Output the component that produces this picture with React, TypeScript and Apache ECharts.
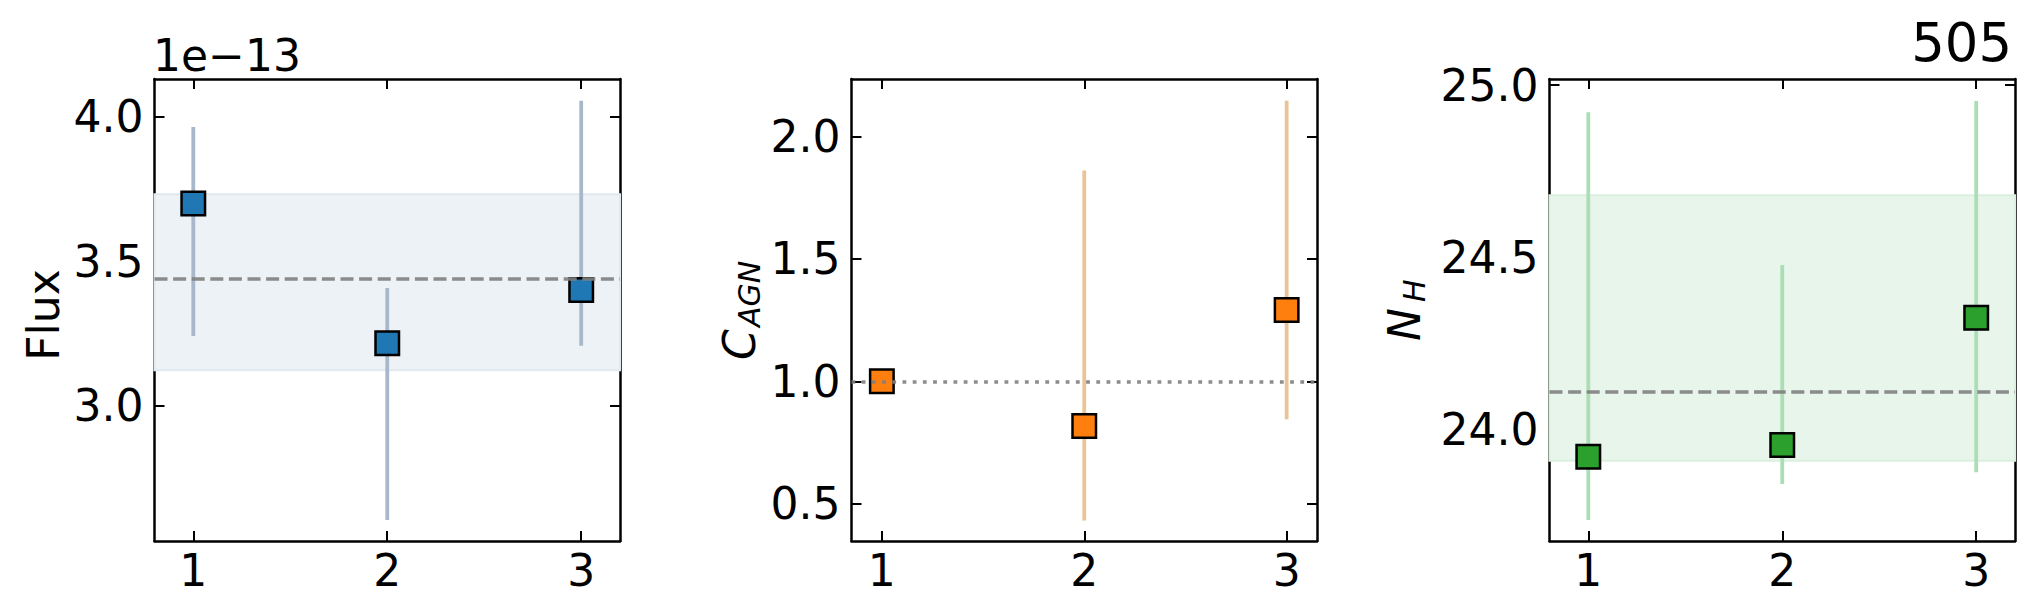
import React, { useEffect, useRef } from "react";
import * as echarts from "echarts";

// ---------- data ----------
const xPositions = [1, 2, 3];
const xTickValues = [1, 2, 3];

// Panel 1: Flux (in units of 1e-13)
const fluxOffsetText = "1e\u221213";
const fluxValues = [3.7, 3.216, 3.4];
const fluxLow = [3.241, 2.604, 3.207];
const fluxHigh = [3.965, 3.407, 4.056];
const fluxMean = 3.438;
const fluxBand = [3.122, 3.732];
const fluxTicks = [3.0, 3.5, 4.0];
const fluxYRange = [2.531, 4.131];
const fluxXRange = [0.8, 3.2];

// Panel 2: C_AGN
const cagnValues = [1.0, 0.818, 1.292];
const cagnLow = [1.0, 0.432, 0.845];
const cagnHigh = [1.0, 1.861, 2.146];
const cagnRef = 1.0;
const cagnTicks = [0.5, 1.0, 1.5, 2.0];
const cagnYRange = [0.348, 2.235];
const cagnXRange = [0.85, 3.15];

// Panel 3: N_H
const nhValues = [23.92, 23.954, 24.324];
const nhLow = [23.736, 23.841, 23.875];
const nhHigh = [24.921, 24.477, 24.954];
const nhMean = 24.11;
const nhBand = [23.908, 24.68];
const nhTicks = [24.0, 24.5, 25.0];
const nhYRange = [23.675, 25.018];
const nhXRange = [0.8, 3.2];

const titleText = "505";

// ---------- styling ----------
const FONT = "DejaVu Sans";
const FS = 44;
const SUB_FS = 30;

const GRID_TOP = 79;
const GRID_H = 462;
const GRID_W = 465.5;
const GRID_LEFTS = [154.5, 851.5, 1549.5];

const tickStyle = (vals: number[]) => ({
  show: true,
  inside: true,
  length: 10,
  customValues: vals,
  lineStyle: { color: "#000", width: 2 },
});
const lineStyleAxis = { show: true, onZero: false, lineStyle: { color: "#000", width: 2.5 } };

function makeAxes(g: number, xr: number[], yr: number[], yTicks: number[]) {
  const xAxes = [
    {
      type: "value",
      gridIndex: g,
      position: "bottom",
      min: xr[0],
      max: xr[1],
      axisLine: lineStyleAxis,
      axisTick: tickStyle(xTickValues),
      splitLine: { show: false },
      axisLabel: {
        show: true,
        customValues: xTickValues,
        margin: 7,
        color: "#000",
        fontFamily: FONT,
        fontSize: FS,
        formatter: (v: number) => String(Math.round(v)),
      },
    },
    {
      type: "value",
      gridIndex: g,
      position: "top",
      min: xr[0],
      max: xr[1],
      axisLine: lineStyleAxis,
      axisTick: tickStyle(xTickValues),
      splitLine: { show: false },
      axisLabel: { show: false, customValues: xTickValues },
    },
  ];
  const yAxes = [
    {
      type: "value",
      gridIndex: g,
      position: "left",
      min: yr[0],
      max: yr[1],
      axisLine: lineStyleAxis,
      axisTick: tickStyle(yTicks),
      splitLine: { show: false },
      axisLabel: {
        show: true,
        customValues: yTicks,
        margin: 11,
        color: "#000",
        fontFamily: FONT,
        fontSize: FS,
        formatter: (v: number) => v.toFixed(1),
      },
    },
    {
      type: "value",
      gridIndex: g,
      position: "right",
      min: yr[0],
      max: yr[1],
      axisLine: lineStyleAxis,
      axisTick: tickStyle(yTicks),
      splitLine: { show: false },
      axisLabel: { show: false, customValues: yTicks },
    },
  ];
  return { xAxes, yAxes };
}

function makeSeries(
  g: number,
  values: number[],
  low: number[],
  high: number[],
  markerColor: string,
  barColor: string,
  opts: { band?: number[]; bandFill?: string; bandBorder?: string; hline: number; hlineType: any; }
) {
  const xi = 2 * g;
  const yi = 2 * g;
  const holder: any = {
    type: "line",
    xAxisIndex: xi,
    yAxisIndex: yi,
    data: [],
    silent: true,
    z: 1,
    markLine: {
      silent: true,
      symbol: ["none", "none"],
      label: { show: false },
      lineStyle: {
        color: "#808080",
        opacity: 0.9,
        width: 3.6,
        type: opts.hlineType,
      },
      data: [{ yAxis: opts.hline }],
    },
  };
  if (opts.band) {
    holder.markArea = {
      silent: true,
      itemStyle: { color: opts.bandFill, borderColor: opts.bandBorder, borderWidth: 2 },
      data: [[{ yAxis: opts.band[0] }, { yAxis: opts.band[1] }]],
    };
  }
  const bars = {
    type: "custom",
    xAxisIndex: xi,
    yAxisIndex: yi,
    z: 2,
    silent: true,
    data: xPositions.map((x, i) => [x, low[i], high[i]]),
    encode: { x: 0, y: [1, 2] },
    renderItem: (params: any, api: any) => {
      const p1 = api.coord([api.value(0), api.value(1)]);
      const p2 = api.coord([api.value(0), api.value(2)]);
      return {
        type: "line",
        shape: { x1: p1[0], y1: p1[1], x2: p2[0], y2: p2[1] },
        style: { stroke: barColor, lineWidth: 3.8 },
      };
    },
  };
  const markers = {
    type: "scatter",
    xAxisIndex: xi,
    yAxisIndex: yi,
    z: 3,
    silent: true,
    symbol: "rect",
    symbolSize: 23.5,
    itemStyle: { color: markerColor, borderColor: "#000", borderWidth: 2.5, opacity: 1 },
    data: xPositions.map((x, i) => [x, values[i]]),
  };
  return [holder, bars, markers];
}

function rotText(text: string, x: number, y: number, size: number, italic: boolean, align: string) {
  return {
    type: "text",
    x,
    y,
    rotation: Math.PI / 2,
    silent: true,
    style: {
      text,
      fill: "#000",
      font: `${italic ? "italic " : ""}${size}px '${FONT}'`,
      fontFamily: FONT,
      fontSize: size,
      fontStyle: italic ? "italic" : "normal",
      align,
      verticalAlign: "middle",
    },
  };
}

export default function App() {
  const ref = useRef<HTMLDivElement>(null);
  useEffect(() => {
    if (!ref.current) return;
    const chart = echarts.init(ref.current, undefined, { renderer: "svg" });
    const a1 = makeAxes(0, fluxXRange, fluxYRange, fluxTicks);
    const a2 = makeAxes(1, cagnXRange, cagnYRange, cagnTicks);
    const a3 = makeAxes(2, nhXRange, nhYRange, nhTicks);
    const option: any = {
      animation: false,
      backgroundColor: "#fff",
      grid: GRID_LEFTS.map((l) => ({ left: l, top: GRID_TOP, width: GRID_W, height: GRID_H, containLabel: false })),
      xAxis: [...a1.xAxes, ...a2.xAxes, ...a3.xAxes],
      yAxis: [...a1.yAxes, ...a2.yAxes, ...a3.yAxes],
      series: [
        ...makeSeries(0, fluxValues, fluxLow, fluxHigh, "#1f77b4", "#a6b8c9", {
          band: fluxBand,
          bandFill: "#ecf2f5",
          bandBorder: "#e1e9ee",
          hline: fluxMean,
          hlineType: [13, 5.6],
        }),
        ...makeSeries(1, cagnValues, cagnLow, cagnHigh, "#ff7f0e", "#e8c496", {
          hline: cagnRef,
          hlineType: [3.8, 6.4],
        }),
        ...makeSeries(2, nhValues, nhLow, nhHigh, "#2ca02c", "#aadeb5", {
          band: nhBand,
          bandFill: "#e8f5ea",
          bandBorder: "#dcf0e0",
          hline: nhMean,
          hlineType: [13, 5.6],
        }),
      ],
      graphic: [
        {
          type: "text",
          x: 153,
          y: 55.5,
          silent: true,
          style: {
            text: fluxOffsetText,
            fill: "#000",
            fontFamily: FONT,
            fontSize: FS,
            align: "left",
            verticalAlign: "middle",
          },
        },
        {
          type: "text",
          x: 2012,
          y: 42.5,
          silent: true,
          style: {
            text: titleText,
            fill: "#000",
            fontFamily: FONT,
            fontSize: 52.8,
            align: "right",
            verticalAlign: "middle",
          },
        },
        rotText("Flux", 43, 315, FS, false, "center"),
        rotText("C", 739, 360, FS, true, "left"),
        rotText("AGN", 749.6, 327, SUB_FS, true, "left"),
        rotText("N", 1404, 341, FS, true, "left"),
        rotText("H", 1414.6, 302, SUB_FS, true, "left"),
      ],
    };
    chart.setOption(option);
    return () => chart.dispose();
  }, []);
  return (
    <div
      ref={ref}
      style={{ position: "absolute", left: 0, top: 0, width: 2034, height: 614, background: "#fff" }}
    />
  );
}
